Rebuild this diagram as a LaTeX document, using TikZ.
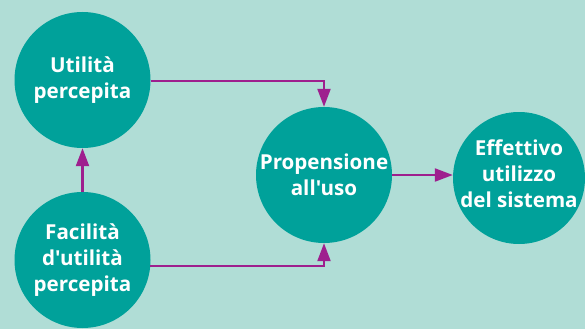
\documentclass[tikz,border=0pt]{standalone}
\usepackage{fontspec}
\setmainfont{Open Sans}[Ligatures=TeXOff]
\usetikzlibrary{arrows.meta}
\definecolor{bgc}{RGB}{176,221,214}
\definecolor{circc}{RGB}{0,161,154}
\definecolor{arrc}{RGB}{158,31,142}
\tikzset{
  bubble/.style={circle, fill=circc, inner sep=0pt, text=white, align=center,
    font=\fontsize{20.6}{25.8}\selectfont\bfseries},
  link/.style={draw=arrc, line width=2.2pt, -{Triangle[length=18pt,width=13pt]}}
}
\begin{document}
\begin{tikzpicture}[x=1pt,y=-1pt]
\fill[bgc] (0,0) rectangle (585,329);
\useasboundingbox (0,0) rectangle (585,329);
\node[bubble, minimum size=136pt] (u) at (82.5,80) {Utilità\\percepita};
\node[bubble, minimum size=136pt] (f) at (82.5,260) {Facilità\\d'utilità\\percepita};
\node[bubble, minimum size=136pt] (p) at (324,175) {Propensione\\all'uso};
\node[bubble, minimum size=132pt] (e) at (519,178) {};
\node[bubble, fill=none] (et) at (519,174) {Effettivo\\utilizzo\\del sistema};
\draw[link] (f.north) -- (u.south);
\draw[link] (u.-1) -| (p.north);
\draw[link] (f.-5) -| (p.south);
\draw[link] (p.east) -- (p.east -| e.west);
\end{tikzpicture}
\end{document}
